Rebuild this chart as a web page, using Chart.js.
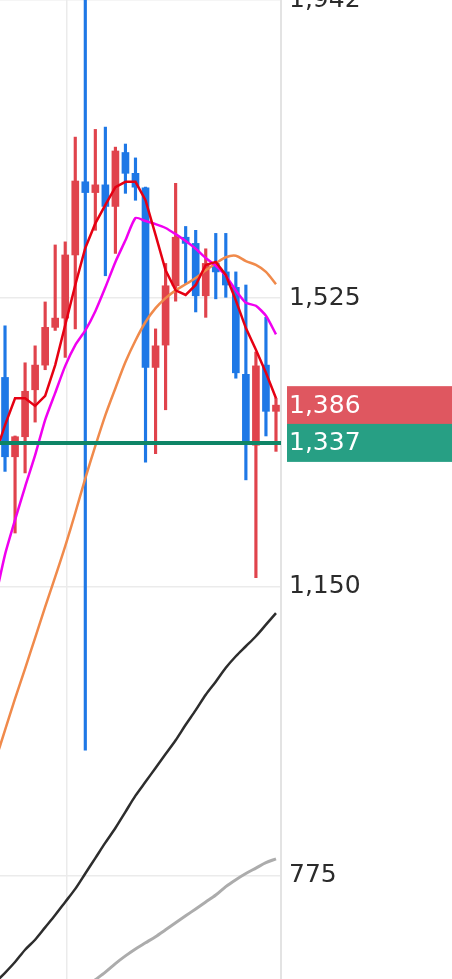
<!DOCTYPE html>
<html>
<head>
<meta charset="utf-8">
<script src="https://cdn.jsdelivr.net/npm/chart.js"></script>
<style>
  html, body { margin: 0; padding: 0; background: #fff; overflow: hidden; }
  #wrap { width: 452px; height: 979px; position: relative; }
</style>
</head>
<body>
<div id="wrap"><canvas id="chart"></canvas></div>
<script>
// Bougies (de la plus ancienne a la plus recente)
const opens  = [1422, 1319, 1345, 1406, 1438, 1487, 1499, 1581, 1676, 1662, 1672, 1644, 1714, 1687,
                1668, 1435, 1464, 1541, 1604, 1596, 1528, 1570, 1559, 1539, 1426, 1334, 1438, 1378];
const highs  = [1489, 1346, 1441, 1463, 1520, 1594, 1598, 1734, 1942, 1744, 1747, 1721, 1725, 1707,
                1669, 1485, 1570, 1674, 1618, 1613, 1589, 1609, 1609, 1559, 1542, 1455, 1500, 1395];
const lows   = [1300, 1220, 1298, 1364, 1432, 1483, 1448, 1485, 938, 1613, 1554, 1583, 1661, 1652,
                1312, 1323, 1380, 1521, 1544, 1507, 1500, 1524, 1526, 1421, 1289, 1162, 1346, 1326];
const closes = [1319, 1345, 1404, 1438, 1487, 1499, 1581, 1677, 1662, 1672, 1644, 1716, 1687, 1669,
                1435, 1463, 1541, 1604, 1596, 1528, 1570, 1559, 1542, 1428, 1337, 1437, 1378, 1386];

// Moyennes mobiles (un point de plus, avant la premiere bougie)
const maRed     = [1321, 1360, 1395, 1395, 1385, 1398, 1438, 1490, 1542, 1590, 1622, 1646, 1669, 1676, 1676,
                   1652, 1607, 1561, 1535, 1529, 1542, 1568, 1572, 1555, 1522, 1486, 1458, 1428, 1395];
const maMagenta = [1133, 1192, 1237, 1280, 1321, 1367, 1402, 1437, 1464, 1483, 1508, 1539, 1572, 1600, 1629,
                   1625, 1621, 1616, 1608, 1599, 1589, 1577, 1567, 1554, 1535, 1519, 1515, 1502, 1478];
const maOrange  = [923, 964, 1005, 1044, 1084, 1124, 1163, 1203, 1246, 1291, 1333, 1373, 1408, 1442, 1470,
                   1494, 1512, 1525, 1535, 1543, 1551, 1561, 1570, 1578, 1580, 1573, 1568, 1559, 1543];
const maBlack   = [636, 649, 663, 679, 692, 708, 724, 741, 758, 778, 798, 818, 837, 858, 879,
                   897, 915, 933, 951, 971, 990, 1010, 1027, 1045, 1060, 1073, 1086, 1101, 1116];
const maGray    = [null, null, null, null, null, null, null, null, 614, 630, 640, 650, 661, 671, 680,
                   688, 696, 705, 714, 723, 732, 741, 750, 761, 770, 778, 785, 792, 797];

const yTicks = [775, 1150, 1525];
const yTickLabels = ['775', '1,150', '1,525', '1,942'];
const yMin = 641;
const yMax = 1912;
const xGrid = [6.7];
const lastPrice = 1386;
const basePrice = 1337;

const UP = '#e0434c';
const DOWN = '#1e78e6';
const FONT = '"DejaVu Sans", sans-serif';

const candleColors = opens.map((o, i) => closes[i] >= o ? UP : DOWN);

function maSeries(values) {
  return values.map((v, j) => ({ x: j - 0.5, y: v }));
}

// Etiquettes de prix a droite
const priceTagPlugin = {
  id: 'priceTags',
  afterDraw(chart) {
    const ctx = chart.ctx;
    const ys = chart.scales.y;
    const tags = [
      { v: lastPrice, bg: '#df5760' },
      { v: basePrice, bg: '#279f84' }
    ];
    ctx.save();
    tags.forEach(t => {
      const y = ys.getPixelForValue(t.v);
      ctx.fillStyle = t.bg;
      ctx.fillRect(287, y - 19, chart.width - 287, 38);
      ctx.fillStyle = '#ffffff';
      ctx.font = '25px ' + FONT;
      ctx.textAlign = 'left';
      ctx.textBaseline = 'middle';
      ctx.fillText(t.v.toLocaleString('en-US'), 289, y + 1);
    });
    ctx.restore();
  }
};

const ctx = document.getElementById('chart').getContext('2d');
new Chart(ctx, {
  type: 'bar',
  data: {
    datasets: [{
      type: 'line',
      data: [{ x: 0, y: basePrice }, { x: 28, y: basePrice }],
      borderColor: '#0e8566',
      borderWidth: 4,
      pointRadius: 0,
      order: 0
    }, {
      type: 'line',
      data: maSeries(maRed),
      borderColor: '#e60012',
      borderWidth: 2.5,
      pointRadius: 0,
      tension: 0,
      order: 1
    }, {
      type: 'line',
      data: maSeries(maMagenta),
      borderColor: '#f000f0',
      borderWidth: 2.5,
      pointRadius: 0,
      tension: 0.2,
      order: 2
    }, {
      type: 'line',
      data: maSeries(maOrange),
      borderColor: '#f08a4b',
      borderWidth: 2.5,
      pointRadius: 0,
      tension: 0.3,
      order: 3
    }, {
      type: 'line',
      data: maSeries(maBlack),
      borderColor: '#2d2d2d',
      borderWidth: 2.5,
      pointRadius: 0,
      tension: 0.3,
      order: 4
    }, {
      type: 'line',
      data: maSeries(maGray),
      borderColor: '#acacac',
      borderWidth: 3,
      pointRadius: 0,
      tension: 0.3,
      order: 5
    }, {
      // meches
      data: highs.map((h, i) => ({ x: i + 0.5, y: [lows[i], h] })),
      backgroundColor: candleColors,
      barThickness: 2.5,
      grouped: false,
      order: 10
    }, {
      // corps
      data: opens.map((o, i) => ({ x: i + 0.5, y: [o, closes[i]] })),
      backgroundColor: candleColors,
      barThickness: 7,
      grouped: false,
      order: 9
    }]
  },
  options: {
    responsive: true,
    maintainAspectRatio: false,
    animation: false,
    layout: { padding: 0 },
    plugins: {
      legend: { display: false },
      tooltip: { enabled: false }
    },
    scales: {
      x: {
        type: 'linear',
        min: 0,
        max: 28,
        offset: false,
        afterBuildTicks: s => { s.ticks = xGrid.map(v => ({ value: v })); },
        afterFit: s => { s.height = 0; s.paddingLeft = 0; s.paddingRight = 0; },
        ticks: { display: false },
        grid: { color: '#ebebeb', lineWidth: 1.5, drawTicks: false, offset: false },
        border: { display: false }
      },
      y: {
        position: 'right',
        min: yMin,
        max: yMax,
        afterBuildTicks: s => { s.ticks = yTicks.concat([yMax]).map(v => ({ value: v })); },
        afterFit: s => { s.width = 171; s.paddingTop = 0; s.paddingBottom = 0; },
        ticks: {
          autoSkip: false,
          padding: 8,
          color: '#2b2b2b',
          font: { family: FONT, size: 25 },
          callback: (v, i) => yTickLabels[i]
        },
        grid: { color: '#ebebeb', lineWidth: 1.5, drawTicks: false },
        border: { color: '#e3e3e3', width: 2 }
      }
    }
  },
  plugins: [priceTagPlugin]
});
</script>
</body>
</html>
